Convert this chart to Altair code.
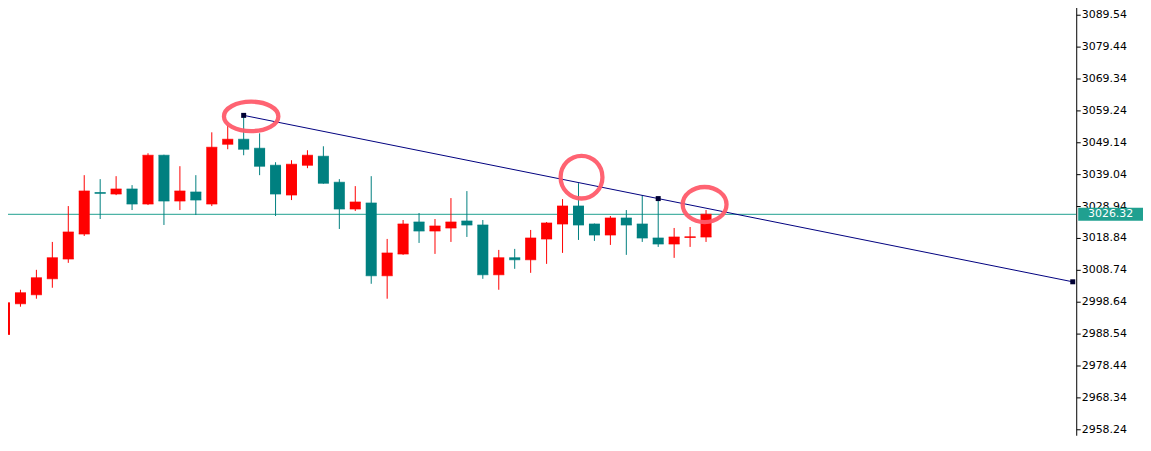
import altair as alt
import pandas as pd

# ---- candle data ----
opens = [2988.21, 2998.00, 3000.84, 3005.89, 3012.20, 3020.09, 3033.20, 3032.72, 3034.30, 3029.56,
         3045.03, 3030.51, 3033.35, 3029.56, 3048.50, 3050.08, 3047.24, 3041.88, 3032.41, 3041.88,
         3044.72, 3036.51, 3027.99, 3029.88, 3006.84, 3013.78, 3023.88, 3021.04, 3021.99, 3024.20,
         3022.94, 3007.15, 3012.52, 3011.89, 3018.52, 3023.25, 3028.93, 3023.25, 3019.78, 3025.14,
         3023.25, 3018.83, 3016.94, 3019.00, 3019.15]
highs = [3001.16, 3002.42, 3008.73, 3017.57, 3028.93, 3038.72, 3037.46, 3038.40, 3035.56, 3045.66,
         3045.20, 3041.56, 3038.72, 3052.29, 3054.50, 3057.66, 3051.98, 3042.82, 3043.45, 3046.61,
         3047.87, 3037.46, 3035.25, 3038.40, 3018.52, 3024.51, 3026.72, 3024.83, 3031.46, 3033.67,
         3024.51, 3015.04, 3015.36, 3021.36, 3023.88, 3031.14, 3036.19, 3023.40, 3025.78, 3027.67,
         3032.41, 3031.14, 3021.99, 3022.30, 3027.67]
lows = [2987.27, 2997.05, 2999.58, 3003.05, 3010.94, 3019.46, 3024.83, 3032.40, 3027.67, 3029.25,
        3022.94, 3027.67, 3026.09, 3028.93, 3046.93, 3045.03, 3038.72, 3025.78, 3030.83, 3040.93,
        3036.00, 3021.67, 3027.35, 3004.31, 2999.58, 3013.47, 3017.25, 3013.78, 3017.57, 3019.15,
        3005.89, 3002.42, 3009.05, 3007.78, 3010.62, 3014.10, 3018.20, 3017.89, 3016.62, 3013.47,
        3017.57, 3015.99, 3012.52, 3015.99, 3017.57]
closes = [2998.31, 3001.47, 3006.21, 3012.52, 3020.73, 3033.67, 3032.95, 3034.30, 3029.56, 3045.03,
          3030.51, 3033.67, 3030.83, 3047.56, 3050.08, 3046.93, 3041.56, 3032.72, 3042.19, 3045.03,
          3036.19, 3027.99, 3030.20, 3006.84, 3014.10, 3023.25, 3021.04, 3022.62, 3023.88, 3022.94,
          3007.15, 3012.52, 3011.89, 3018.83, 3023.57, 3028.93, 3022.94, 3019.78, 3025.14, 3022.94,
          3018.83, 3016.94, 3019.15, 3019.20, 3026.32]
bar_index = list(range(len(closes)))

# trend line anchors (bar index, price)
trend_x = [15, 41, 67]
trend_price = [3057.66, 3031.30, 3004.94]

# highlighted spots (bar index, price)
ring_x = [15.47, 36.19, 43.91]
ring_price = [3057.34, 3038.09, 3029.41]

last_price = [3026.32]

axis_ticks = [3089.54, 3079.44, 3069.34, 3059.24, 3049.14, 3039.04, 3028.94,
              3018.84, 3008.74, 2998.64, 2988.54, 2978.44, 2968.34, 2958.24]

# ---- styles ----
RED = "#FF0000"
TEAL = "#008080"
LINE_TEAL = "#20A090"
NAVY = "#000080"
RING = "#FF5B6B"
ring_shapes = [
    "M-1,0 A1,0.54 0 1,0 1,0 A1,0.54 0 1,0 -1,0 Z",
    "M-1,0 A1,1.02 0 1,0 1,0 A1,1.02 0 1,0 -1,0 Z",
    "M-1,0 A1,0.8 0 1,0 1,0 A1,0.8 0 1,0 -1,0 Z",
]
ring_sizes = [2981, 1764, 1936]

df = pd.DataFrame({"i": bar_index, "open": opens, "high": highs, "low": lows, "close": closes})
df["dir"] = ["up" if c >= o else "down" for o, c in zip(opens, closes)]
trend_df = pd.DataFrame({"i": trend_x, "price": trend_price})
ring_df = pd.DataFrame({"i": ring_x, "price": ring_price, "shape": ring_shapes, "size": ring_sizes})
last_df = pd.DataFrame({"price": last_price})

xs = alt.Scale(domain=[-0.28125, 67.21875], nice=False, zero=False, padding=0)
ys = alt.Scale(domain=[2956.33, 3093.96], nice=False, zero=False, padding=0)
yaxis = alt.Axis(orient="right", values=axis_ticks, format=".2f", title=None, grid=False,
                 domainColor="#000000", domainWidth=1, tickColor="#000000", tickSize=4,
                 labelPadding=1, labelFont="DejaVu Sans", labelFontSize=11,
                 labelColor="#000000", labelOverlap=False)


def X(f="i:Q"):
    return alt.X(f, scale=xs, axis=None)


def Y(f):
    return alt.Y(f, scale=ys, axis=yaxis)


color = alt.Color("dir:N", scale=alt.Scale(domain=["up", "down"], range=[RED, TEAL]), legend=None)

base = alt.Chart(df)
price_line = alt.Chart(last_df).mark_rule(color=LINE_TEAL, strokeWidth=1, clip=True).encode(y=Y("price:Q"))
wicks = base.mark_rule(strokeWidth=1, clip=True).encode(x=X(), y=Y("low:Q"), y2="high:Q", color=color)
bodies = base.mark_bar(size=11, clip=True).encode(x=X(), y=Y("open:Q"), y2="close:Q", color=color)
open_ticks = base.mark_tick(orient="horizontal", size=11, thickness=1, clip=True).encode(
    x=X(), y=Y("open:Q"), color=color)
close_ticks = base.mark_tick(orient="horizontal", size=11, thickness=1, clip=True).encode(
    x=X(), y=Y("close:Q"), color=color)

trend = alt.Chart(trend_df).mark_line(color=NAVY, strokeWidth=1, clip=True).encode(x=X(), y=Y("price:Q"))
anchors = alt.Chart(trend_df).mark_square(size=25, color="#000033", opacity=1).encode(x=X(), y=Y("price:Q"))

rings = alt.Chart(ring_df).mark_point(filled=False, strokeWidth=4.3, color=RING, opacity=0.95).encode(
    x=X(), y=Y("price:Q"),
    shape=alt.Shape("shape:N", scale=None),
    size=alt.Size("size:Q", scale=None),
)

tag_box = alt.Chart(last_df).mark_point(
    shape="M-1,-0.2 L1,-0.2 L1,0.2 L-1,0.2 Z", size=4225, filled=True, color=LINE_TEAL, opacity=1
).encode(x=alt.value(1114.5), y=Y("price:Q"))
tag_text = alt.Chart(last_df).mark_text(
    color="white", font="DejaVu Sans", fontSize=11, align="center", baseline="middle"
).encode(x=alt.value(1114.5), y=Y("price:Q"), text=alt.Text("price:Q", format=".2f"))

chart = alt.layer(
    price_line, wicks, bodies, open_ticks, close_ticks, trend, anchors, rings, tag_box, tag_text
).properties(
    width=1080, height=436,
    padding={"left": -8, "top": -8, "right": 0, "bottom": 0},
    background="white",
).configure_view(stroke=None)

chart.save("out.html", embed_options={"renderer": "svg", "actions": False})
